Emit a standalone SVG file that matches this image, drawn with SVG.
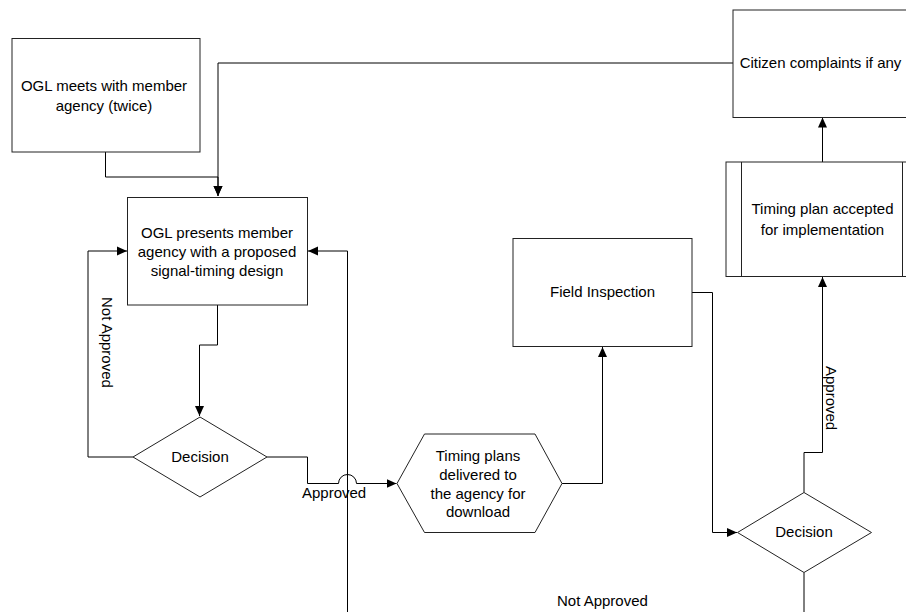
<svg xmlns="http://www.w3.org/2000/svg" width="906" height="612" viewBox="0 0 906 612">
<defs>
<marker id="arr" markerWidth="10" markerHeight="10" viewBox="0 0 10 10" refX="10" refY="5" orient="auto" markerUnits="userSpaceOnUse">
<path d="M0,0.5 L10,5 L0,9.5 Z" fill="#000"/>
</marker>
<style>
.shape{fill:#fff;stroke:#222;stroke-width:1}
.conn{fill:none;stroke:#000;stroke-width:1}
.t{font-family:"Liberation Sans",Arial,sans-serif;font-size:15px;fill:#000;text-anchor:middle}
.l{font-family:"Liberation Sans",Arial,sans-serif;font-size:15px;fill:#000}
</style>
</defs>
<rect width="906" height="612" fill="#fff"/>
<g id="connectors">
<path class="conn" d="M105.5,152 V177 H218 V196" marker-end="url(#arr)"/>
<path class="conn" d="M733,63 H218 V196" marker-end="url(#arr)"/>
<path class="conn" d="M217.5,305 V345 H199.5 V416" marker-end="url(#arr)"/>
<path class="conn" d="M133,457 H88 V251 H127" marker-end="url(#arr)"/>
<path class="conn" d="M267,457 H307.5 V483.5 H338.5 A9,9 0 0 1 356.5,483.5 H396.5" marker-end="url(#arr)"/>
<path class="conn" d="M347.5,612 V251 H308" marker-end="url(#arr)"/>
<path class="conn" d="M562,483.5 H602.5 V347" marker-end="url(#arr)"/>
<path class="conn" d="M692,292.5 H712.5 V532.5 H737" marker-end="url(#arr)"/>
<path class="conn" d="M804,492.5 V452.5 H822.5 V277" marker-end="url(#arr)"/>
<path class="conn" d="M822.5,162 V117.5" marker-end="url(#arr)"/>
<path class="conn" d="M804,572.5 V612"/>
<text class="l" transform="translate(102,297) rotate(90)">Not Approved</text>
<text class="l" x="302" y="498">Approved</text>
<text class="l" transform="translate(825.5,366) rotate(90)">Approved</text>
<text class="l" x="557" y="606">Not Approved</text>
</g>
<g id="meets">
<rect class="shape" x="12" y="38.5" width="188" height="113.5"/>
<text class="t" x="104" y="91">OGL meets with member</text>
<text class="t" x="104" y="111">agency (twice)</text>
</g>
<g id="presents">
<rect class="shape" x="127.5" y="197.5" width="180" height="107.5"/>
<text class="t" x="217" y="238">OGL presents member</text>
<text class="t" x="217" y="257">agency with a proposed</text>
<text class="t" x="217" y="276">signal-timing design</text>
</g>
<g id="decision1">
<polygon class="shape" points="200,417 267,457 200,497 133,457"/>
<text class="t" x="200" y="462">Decision</text>
</g>
<g id="delivered">
<polygon class="shape" points="397,483.5 424.5,434 535,434 562,483.5 535,532.5 424.5,532.5"/>
<text class="t" x="478" y="461">Timing plans</text>
<text class="t" x="478" y="480">delivered to</text>
<text class="t" x="478" y="499">the agency for</text>
<text class="t" x="478" y="517">download</text>
</g>
<g id="field">
<rect class="shape" x="513" y="238.5" width="179" height="108"/>
<text class="t" x="602.5" y="297">Field Inspection</text>
</g>
<g id="decision2">
<polygon class="shape" points="804,492.5 871.5,532.5 804,572.5 737.5,532.5"/>
<text class="t" x="804" y="537">Decision</text>
</g>
<g id="accepted">
<rect class="shape" x="726" y="162" width="192" height="114.5"/>
<line class="shape" x1="741.5" y1="162" x2="741.5" y2="276.5"/>
<line class="shape" x1="902.5" y1="162" x2="902.5" y2="276.5"/>
<text class="t" x="822.5" y="214">Timing plan accepted</text>
<text class="t" x="822.5" y="235">for implementation</text>
</g>
<g id="citizen">
<rect class="shape" x="733" y="10" width="180" height="107.5"/>
<text class="t" x="820.5" y="68">Citizen complaints if any</text>
</g>
</svg>
